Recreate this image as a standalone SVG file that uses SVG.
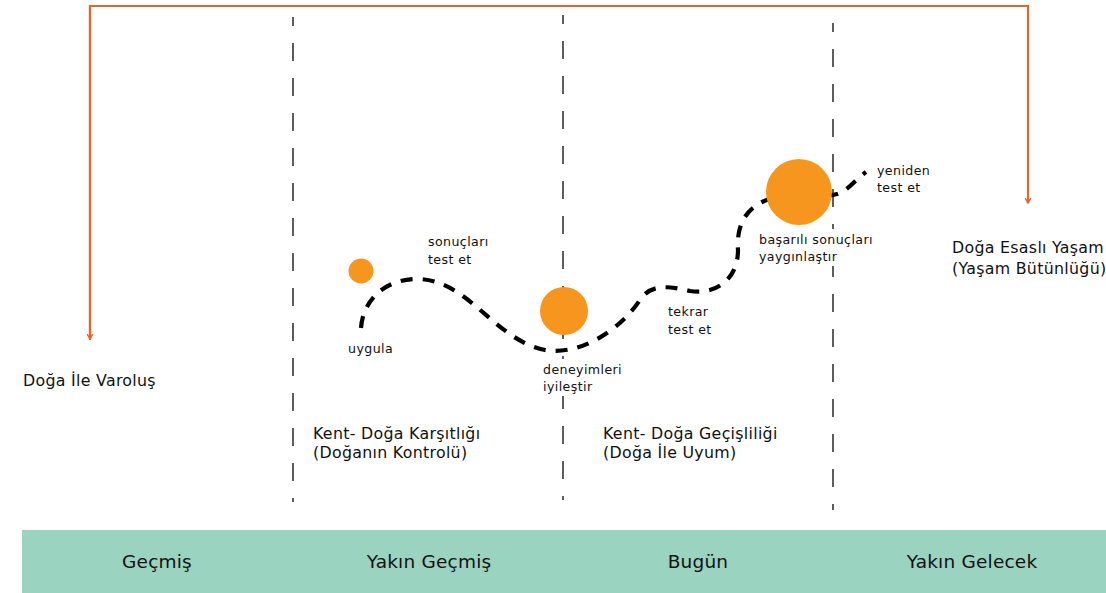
<svg xmlns="http://www.w3.org/2000/svg" width="1106" height="593" viewBox="0 0 1106 593">
  <style>
    .divider { stroke: #1a1a1a; stroke-width: 1.4; stroke-dasharray: 18 17; stroke-dashoffset: 9; fill: none; }
    .flow { stroke: #E2672F; stroke-width: 2.2; fill: none; }
    .path { stroke: #000; stroke-width: 4.2; stroke-dasharray: 12 10; fill: none; }
    .dot { fill: #F7961F; }
    .knock { fill: #fff; }
    .lbl { font-family: "DejaVu Sans", "Noto Sans", sans-serif; fill: #111; }
    .small { font-size: 12.6px; letter-spacing: 0.4px; }
    .mid { font-size: 15.8px; letter-spacing: 0.3px; }
    .era { font-size: 18.5px; letter-spacing: 0.2px; text-anchor: middle; }
  </style>
  <defs>
    <marker id="chev" viewBox="0 0 10 10" refX="8" refY="5" markerWidth="7" markerHeight="7" orient="auto" markerUnits="userSpaceOnUse">
      <path d="M1,1 L8,5 L1,9" fill="none" stroke="#E2672F" stroke-width="2"/>
    </marker>
  </defs>

  <!-- era dividers -->
  <g id="dividers">
    <line class="divider" x1="293" y1="17" x2="293" y2="502"/>
    <line class="divider" x1="563" y1="15" x2="563" y2="500"/>
    <line class="divider" x1="833" y1="23" x2="833" y2="510"/>
  </g>

  <!-- connectors -->
  <g id="connectors">
    <path class="flow" d="M90,340 V6 H1028 V203" marker-end="url(#chev)"/>
    <path class="flow" d="M90,6 V339" marker-end="url(#chev)"/>
    <path class="path" d="M361,328 C363,300 385,278 420,279 C470,282 495,340 545,350 C580,356 620,330 640,300 C650,285 665,285 690,291 C715,295 738,280 738,250 C736,220 750,205 772,198 C795,190 825,200 840,193 C850,188 855,180 866,172"/>
  </g>

  <!-- milestones -->
  <g id="node-uygula">
    <circle class="dot" cx="361" cy="271" r="12.5"/>
    <text class="lbl small" x="348" y="353">uygula</text>
  </g>
  <g id="node-sonuclari">
    <text class="lbl small" x="428" y="246">sonuçları</text>
    <text class="lbl small" x="428" y="264">test et</text>
  </g>
  <g id="node-deneyimleri">
    <circle class="dot" cx="564" cy="311" r="24"/>
    <rect class="knock" x="541" y="359" width="84" height="37"/>
    <text class="lbl small" x="543" y="374">deneyimleri</text>
    <text class="lbl small" x="543" y="391">iyileştir</text>
  </g>
  <g id="node-tekrar">
    <text class="lbl small" x="668" y="316">tekrar</text>
    <text class="lbl small" x="668" y="334">test et</text>
  </g>
  <g id="node-basarili">
    <circle class="dot" cx="799" cy="192" r="33"/>
    <rect class="knock" x="757" y="229" width="124" height="37"/>
    <text class="lbl small" x="759" y="244">başarılı sonuçları</text>
    <text class="lbl small" x="759" y="261">yaygınlaştır</text>
  </g>
  <g id="node-yeniden">
    <text class="lbl small" x="877" y="175">yeniden</text>
    <text class="lbl small" x="877" y="192">test et</text>
  </g>

  <!-- period descriptions -->
  <g id="node-varolus">
    <text class="lbl mid" x="23" y="386">Doğa İle Varoluş</text>
  </g>
  <g id="node-karsitlik">
    <text class="lbl mid" x="313" y="439">Kent- Doğa Karşıtlığı</text>
    <text class="lbl mid" x="313" y="458">(Doğanın Kontrolü)</text>
  </g>
  <g id="node-gecislilik">
    <text class="lbl mid" x="603" y="439">Kent- Doğa Geçişliliği</text>
    <text class="lbl mid" x="603" y="458">(Doğa İle Uyum)</text>
  </g>
  <g id="node-butunluk">
    <text class="lbl mid" x="952" y="253">Doğa Esaslı Yaşam</text>
    <text class="lbl mid" x="952" y="274">(Yaşam Bütünlüğü)</text>
  </g>

  <!-- timeline band -->
  <g id="timeline">
    <rect x="22" y="530" width="1084" height="63" fill="#9AD3C0"/>
    <text class="lbl era" x="157" y="568">Geçmiş</text>
    <text class="lbl era" x="429" y="568">Yakın Geçmiş</text>
    <text class="lbl era" x="698" y="568">Bugün</text>
    <text class="lbl era" x="972" y="568">Yakın Gelecek</text>
  </g>
</svg>
